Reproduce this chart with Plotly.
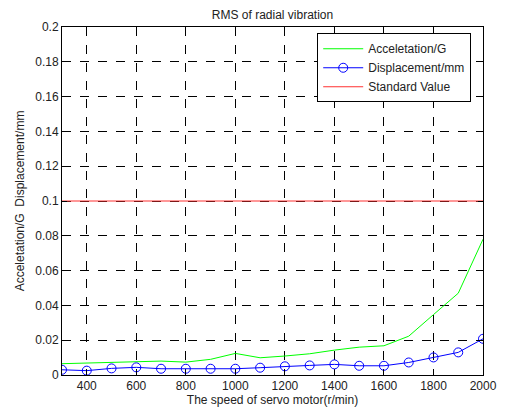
import plotly.graph_objects as go

speed = [300, 400, 500, 600, 700, 800, 900, 1000, 1100, 1200, 1300, 1400, 1500, 1600, 1700, 1800, 1900, 2000]
accel = [0.0065, 0.0069, 0.0072, 0.0074, 0.0080, 0.0074, 0.0090, 0.0124, 0.0099, 0.0109, 0.0122, 0.0143, 0.0160, 0.0168, 0.0223, 0.0347, 0.0470, 0.0780]
disp = [0.0030, 0.0025, 0.0038, 0.0044, 0.0036, 0.0036, 0.0036, 0.0036, 0.0042, 0.0050, 0.0055, 0.0061, 0.0053, 0.0053, 0.0072, 0.0101, 0.0130, 0.0208]
standard = [0.1] * len(speed)

xticks = [400, 600, 800, 1000, 1200, 1400, 1600, 1800, 2000]
yticks = [0, 0.02, 0.04, 0.06, 0.08, 0.1, 0.12, 0.14, 0.16, 0.18, 0.2]
ytick_labels = ["0", "0.02", "0.04", "0.06", "0.08", "0.1", "0.12", "0.14", "0.16", "0.18", "0.2"]

font = "Liberation Sans, Arial, sans-serif"
fs = 12

fig = go.Figure()
fig.add_trace(go.Scatter(x=speed, y=accel, mode="lines", name="Acceletation/G",
                         line=dict(color="#00ff00", width=1)))
fig.add_trace(go.Scatter(x=speed, y=disp, mode="lines+markers", name="Displacement/mm",
                         line=dict(color="#0000ff", width=1),
                         marker=dict(symbol="circle-open", size=9, color="#0000ff", line=dict(width=1))))
fig.add_trace(go.Scatter(x=speed, y=standard, mode="lines", name="Standard Value",
                         line=dict(color="#ff3030", width=1)))

axis_common = dict(showline=True, linecolor="black", linewidth=1, mirror="ticks",
                   ticks="inside", ticklen=5, tickcolor="black",
                   showgrid=True, gridcolor="black", griddash="dash", gridwidth=1,
                   zeroline=False, automargin=False,
                   tickfont=dict(family=font, size=fs, color="#222"))

fig.update_xaxes(range=[300, 2000], tickvals=xticks,
                 title=dict(text="The speed of servo motor(r/min)", font=dict(family=font, size=fs, color="#222"), standoff=0),
                 **axis_common)
fig.update_yaxes(range=[0, 0.2], tickvals=yticks, ticktext=ytick_labels,
                 title=dict(text="Acceletation/G\u00a0\u00a0Displacement/mm", font=dict(family=font, size=fs, color="#222"), standoff=8),
                 **axis_common)

# page body has an 8px margin, so the figure is sized/positioned to compensate
fig.update_layout(
    width=499, height=401,
    margin=dict(l=54, r=24, t=19, b=34, autoexpand=False),
    paper_bgcolor="white", plot_bgcolor="white",
    title=dict(text="RMS of radial vibration", x=0.5, xref="paper", y=1.0, yanchor="top",
               pad=dict(t=3), font=dict(family=font, size=fs, color="#222")),
    font=dict(family=font, size=fs, color="#222"),
    legend=dict(x=0.972, xanchor="right", y=0.982, yanchor="top",
                bgcolor="white", bordercolor="black", borderwidth=1,
                font=dict(family=font, size=fs, color="#222"),
                tracegroupgap=0, itemwidth=40),
    showlegend=True,
)

fig.write_html("out.html")
